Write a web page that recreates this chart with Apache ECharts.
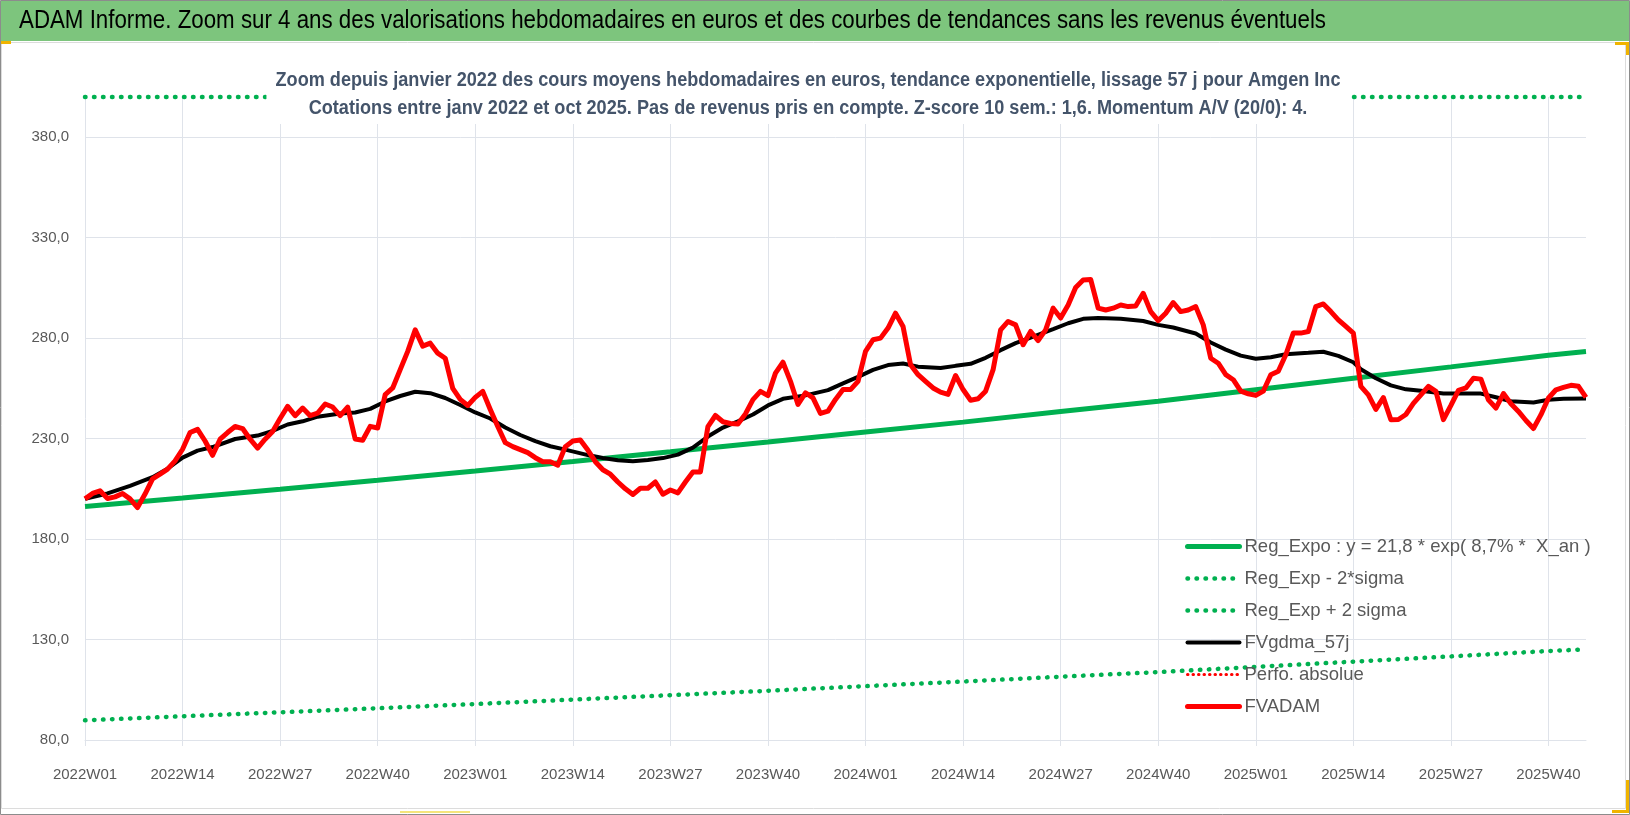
<!DOCTYPE html>
<html><head><meta charset="utf-8">
<script src="https://cdn.jsdelivr.net/npm/echarts/dist/echarts.min.js"></script>
<style>html,body{margin:0;padding:0;background:#fff}#c{width:1630px;height:815px}</style>
</head><body><div id="c"></div><script>
// categories: ISO weeks 2022W01 .. 2025W45
const weeks = [];
for (let k = 0; k <= 200; k++) {
  const y = 2022 + Math.floor(k / 52), w = k % 52 + 1;
  weeks.push(y + 'W' + String(w).padStart(2, '0'));
}
const yTicks = [80, 130, 180, 230, 280, 330, 380];

// FVADAM weekly values
const fvadam = [
 200,202.7,204,200.2,201,202.7,200,195.7,202.4,210,
 212.3,214.8,218.9,224.7,233,234.6,228.8,221.7,229.7,233,
 236,235,229.7,225.3,229.7,233.5,240,246,241.4,245.2,
 241.4,242.7,247.2,245.7,241.4,245.7,229.8,229.2,236.1,235.3,
 251.9,255.2,264.3,273.4,284.1,276,277.5,272.5,270,255,
 249.5,246.5,250.5,253.5,244.5,236,228,226,224.5,223,
 220.5,218.5,218.5,216.8,226,228.8,229.3,224.3,218.5,214.5,
 212.3,208.4,205,202.2,205.3,205.3,208.4,202.3,204.4,203,
 208.4,213.4,213.4,236,241.5,238.4,237.5,237.3,242.3,249.4,
 253.5,251.4,262.6,268,258.5,247,252.8,250.3,242.5,243.7,
 249.5,254.4,254.4,258.5,273.4,279.2,280,285,292.4,285.8,
 266.8,261.8,258.5,255.2,253.1,252,261.4,254.4,249.1,249.8,
 253.6,264.3,284.1,288.3,286.6,276.7,283.3,278.8,284.1,294.9,
 290,296.5,305.2,308.9,309.2,294.9,294,294.9,296.5,295.7,
 296,302.3,293.2,288.7,292.4,297.7,293.2,294,295.7,286.6,
 270,267.5,261.8,259.3,253.6,252.3,251.5,253.6,261.8,263.5,
 271.7,282.5,282.5,283.3,295.7,297,293.2,289.1,285.8,282.5,
 256,251.8,244.5,250.4,239.4,239.5,242,247.5,251.8,256,
 253.5,239.4,246.5,254,255.2,260,259.6,249.3,245.2,252.4,
 247.3,243.5,239,235,241.9,250.2,254.3,255.5,256.5,256,
 250.5
];
// FVgdma_57j (week index, value)
const fvgdma = [
 [0,200],[3,202.7],[6,206.5],[9,210.8],[11,215],[13,220.5],[15,224],[17,225.8],[20,229.8],[23,231.5],
 [25,233.8],[27,237],[29,238.6],[31,240.9],[34,242.5],[36,243],[38,244.8],[40,248.5],[42,251.2],[44,253.3],
 [46,252.6],[48,250.2],[50,246.7],[52,243],[54,240],[56,235.5],[58,231.8],[60,228.7],[62,226.2],[64,224.5],
 [67,221.8],[69,220.3],[71,219.2],[73,218.7],[75,219.4],[77,220.3],[79,222],[81,225.5],[83,231],[85,235.5],
 [87,238.6],[89,242],[91,246.5],[93,249.8],[96,251.5],[99,254.1],[101,257.5],[103,260.7],[105,264.2],[107,266.6],
 [109,267.4],[111,265.8],[114,265.1],[116,266.2],[118,267.2],[120,270.2],[122,274],[124,277.5],[126,280.3],[129,284.5],
 [131,287.4],[133,289.6],[135,290],[138,289.6],[141,288.5],[143,286.6],[145,285.3],[148,282.3],[150,277.8],[152,274.3],
 [154,271.3],[156,269.7],[158,270.5],[160,272],[163,272.7],[165,273.2],[167,271.2],[169,268],[170,264.5],[172,260],
 [174,256.5],[176,254.5],[178,253.8],[181,252.4],[184,252.4],[186,252.4],[188,250.6],[190,248.6],[193,248],[195,249.3],
 [197,249.8],[200,250]
];
// Reg_Expo (week index, value)
const regExpo = [
 [0,196.2],[13,200.4],[26,204.8],[39,209.3],[52,213.9],[65,218.6],[78,223.4],[91,228.3],[104,233.3],
 [117,238.2],[130,243.5],[143,248.6],[156,254.3],[169,260],[182,265.7],[195,271.5],[200,273.3]
];
// Reg_Exp - 2*sigma
const regLow = [
 [0,89.8],[13,91.8],[26,93.8],[39,95.8],[52,97.9],[65,100.1],[78,102.3],[91,104.5],[104,106.8],
 [117,109.1],[130,111.5],[143,113.8],[156,116.4],[169,119],[182,121.6],[195,124.3],[200,125.1]
];
// Reg_Exp + 2 sigma (shown at the top edge of the plot)
const regHigh = [[0,400],[200,400]];
const perfo = [];

const titleText = 'ADAM Informe. Zoom sur 4 ans des valorisations hebdomadaires en euros et des courbes de tendances sans les revenus éventuels';
const subLines = [
  'Zoom depuis janvier 2022 des cours moyens hebdomadaires en euros, tendance exponentielle, lissage 57 j pour Amgen Inc',
  'Cotations entre janv 2022 et oct 2025. Pas de revenus pris en compte. Z-score 10 sem.: 1,6. Momentum A/V (20/0): 4.'
];

const FONT = "'Liberation Sans',Arial,sans-serif";
const GRID = '#dfe3ea';
const mctx = document.createElement('canvas').getContext('2d');
function fit(text, font, target) { mctx.font = font; return target / mctx.measureText(text).width; }
const titleFont = "25px " + FONT;
const subFont = "bold 20px " + FONT;
const titleScale = fit(titleText, titleFont, 1307);
const subScale = fit(subLines[0], subFont, 1065);

const chart = echarts.init(document.getElementById('c'), null, {renderer: 'canvas'});
const dot = (w, gap) => ({width: w, type: [0.5, gap], cap: 'round'});
const LEG = ['Reg_Expo : y = 21,8 * exp( 8,7% *  X_an )', 'Reg_Exp - 2*sigma', 'Reg_Exp + 2 sigma', 'FVgdma_57j', 'Perfo. absolue', 'FVADAM'];
chart.setOption({
  animation: false,
  backgroundColor: '#fff',
  graphic: [
    {type: 'rect', z: -10, silent: true, shape: {x: 0.5, y: 0.5, width: 1629, height: 814}, style: {fill: '#fff', stroke: '#8c8c8c', lineWidth: 1}},
    {type: 'rect', z: -9, silent: true, shape: {x: 1, y: 1, width: 1628, height: 40}, style: {fill: '#7dc57d'}},
    {type: 'rect', z: -9, silent: true, shape: {x: 1.5, y: 42.5, width: 1624, height: 766}, style: {fill: 'none', stroke: '#dcdcdc', lineWidth: 1}},
    {type: 'rect', z: 1, silent: true, shape: {x: 1, y: 41, width: 10, height: 3}, style: {fill: '#f0b400'}},
    {type: 'rect', z: 1, silent: true, shape: {x: 1615, y: 42, width: 14, height: 3}, style: {fill: '#f0b400'}},
    {type: 'rect', z: 1, silent: true, shape: {x: 1626, y: 42, width: 3, height: 13}, style: {fill: '#f0b400'}},
    {type: 'rect', z: 1, silent: true, shape: {x: 1626, y: 780, width: 3, height: 33}, style: {fill: '#f0b400'}},
    {type: 'rect', z: 1, silent: true, shape: {x: 1612, y: 810, width: 17, height: 3}, style: {fill: '#f0b400'}},
    {type: 'rect', z: 1, silent: true, shape: {x: 400, y: 811, width: 70, height: 2}, style: {fill: '#f5e47a'}},
    {type: 'text', z: 5, silent: true, x: 19, y: 21, scaleX: titleScale,
     style: {text: titleText, font: titleFont, fill: '#000', textAlign: 'left', textVerticalAlign: 'middle'}},
    {type: 'text', z: 5, silent: true, x: 808, y: 64, scaleX: subScale,
     style: {text: subLines.join('\n'), font: subFont, fill: '#44546a', textAlign: 'center', textVerticalAlign: 'top',
             lineHeight: 28, backgroundColor: '#fff', padding: [2, 10]}}
  ],
  grid: {left: 85, right: 44, top: 97, bottom: 75, containLabel: false},
  legend: {
    orient: 'vertical', left: 1185, top: 537, padding: 0, itemGap: 13, itemWidth: 52, itemHeight: 18,
    itemStyle: {color: 'rgba(0,0,0,0)', borderWidth: 0, opacity: 0},
    lineStyle: {width: 'inherit', type: 'inherit', cap: 'round'},
    textStyle: {fontFamily: FONT, fontSize: 18.5, color: '#595959', lineHeight: 18},
    data: LEG
  },
  xAxis: {
    type: 'category', boundaryGap: false, data: weeks,
    axisLine: {show: true, lineStyle: {color: GRID, width: 1}},
    axisTick: {show: true, interval: 12, length: 6, lineStyle: {color: GRID}},
    axisLabel: {interval: 12, color: '#595959', fontFamily: FONT, fontSize: 15, margin: 27},
    splitLine: {show: true, interval: 12, lineStyle: {color: GRID, width: 1}}
  },
  yAxis: {
    type: 'value', min: 80, max: 400, interval: 50,
    axisLine: {show: false}, axisTick: {show: false},
    axisLabel: {color: '#595959', fontFamily: FONT, fontSize: 15, margin: 16,
      formatter: v => yTicks.indexOf(v) >= 0 ? v.toFixed(1).replace('.', ',') : ''},
    splitLine: {show: true, showMaxLine: false, lineStyle: {color: GRID, width: 1}}
  },
  series: [
    {name: LEG[0], type: 'line', data: regExpo, symbol: 'none', silent: true,
     lineStyle: {color: '#00b050', width: 5}, itemStyle: {color: '#00b050'}},
    {name: LEG[1], type: 'line', data: regLow, symbol: 'none', silent: true,
     lineStyle: Object.assign({color: '#00b050'}, dot(4.5, 8.5)), itemStyle: {color: '#00b050'}},
    {name: LEG[2], type: 'line', data: regHigh, symbol: 'none', silent: true, clip: false,
     lineStyle: Object.assign({color: '#00b050'}, dot(4.5, 8.5)), itemStyle: {color: '#00b050'}},
    {name: LEG[3], type: 'line', data: fvgdma, symbol: 'none', silent: true,
     lineStyle: {color: '#000', width: 4}, itemStyle: {color: '#000'}},
    {name: LEG[4], type: 'line', data: perfo, symbol: 'none', silent: true,
     lineStyle: Object.assign({color: '#ff0000'}, dot(3, 5)), itemStyle: {color: '#ff0000'}},
    {name: LEG[5], type: 'line', data: fvadam, symbol: 'none', silent: true,
     lineStyle: {color: '#ff0000', width: 5, join: 'round'}, itemStyle: {color: '#ff0000'}}
  ]
});
</script></body></html>
